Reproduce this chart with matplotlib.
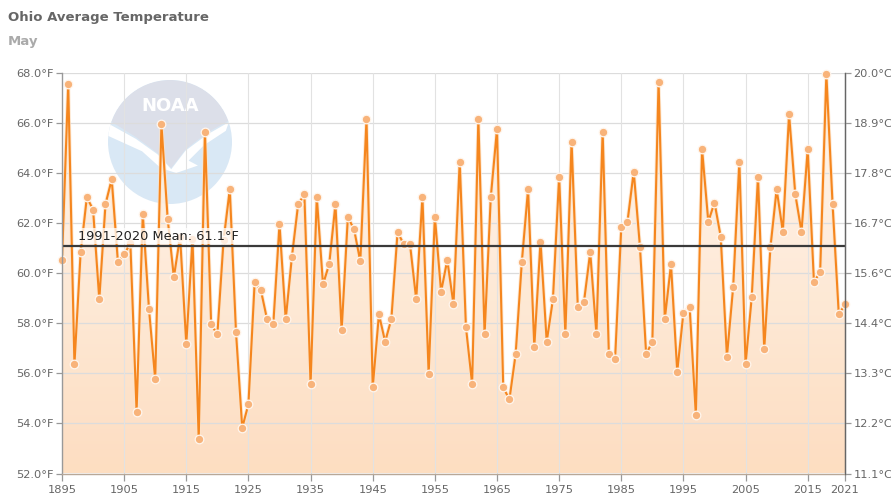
import numpy as np
import matplotlib
matplotlib.use("Agg")
import matplotlib.pyplot as plt
from matplotlib.patches import Polygon, Circle

# ---------------- data ----------------
years = list(range(1895, 2022))
temps_f = [
    60.53, 67.56, 56.36, 60.84, 63.04, 62.55, 58.96, 62.77, 63.76, 60.45,  # 1895-1904
    60.76, 61.20, 54.47, 62.36, 58.56, 55.76, 65.96, 62.19, 59.85, 61.47,  # 1905-1914
    57.17, 61.37, 53.37, 65.67, 57.96, 57.56, 61.33, 63.36, 57.64, 53.83,  # 1915-1924
    54.77, 59.64, 59.33, 58.16, 57.96, 61.96, 58.16, 60.67, 62.76, 63.16,  # 1925-1934
    55.57, 63.05, 59.56, 60.37, 62.76, 57.73, 62.25, 61.76, 60.48, 66.16,  # 1935-1944
    55.44, 58.36, 57.27, 58.17, 61.65, 61.16, 61.16, 58.96, 63.05, 55.97,  # 1945-1954
    62.27, 59.27, 60.53, 58.76, 64.47, 57.85, 55.57, 66.16, 57.56, 63.05,  # 1955-1964
    65.77, 55.44, 54.96, 56.77, 60.47, 63.36, 57.07, 61.27, 57.27, 58.96,  # 1965-1974
    63.87, 57.56, 65.27, 58.67, 58.87, 60.84, 57.57, 65.67, 56.77, 56.56,  # 1975-1984
    61.84, 62.07, 64.07, 61.07, 56.77, 57.27, 67.67, 58.17, 60.36, 56.07,  # 1985-1994
    58.43, 58.64, 54.33, 64.96, 62.07, 62.83, 61.47, 56.67, 59.44, 64.47,  # 1995-2004
    56.37, 59.07, 63.87, 56.96, 61.04, 63.36, 61.67, 66.36, 63.16, 61.67,  # 2005-2014
    64.96, 59.67, 60.04, 67.96, 62.76, 58.36, 58.76,                        # 2015-2021
]
mean_value = 61.1
mean_label = "1991-2020 Mean: 61.1°F"
x_ticks = [1895, 1905, 1915, 1925, 1935, 1945, 1955, 1965, 1975, 1985, 1995, 2005, 2015, 2021]
y_ticks_f = [52, 54, 56, 58, 60, 62, 64, 66, 68]
y_labels_f = ["52.0°F", "54.0°F", "56.0°F", "58.0°F", "60.0°F", "62.0°F", "64.0°F", "66.0°F", "68.0°F"]
y_labels_c = ["11.1°C", "12.2°C", "13.3°C", "14.4°C", "15.6°C", "16.7°C", "17.8°C", "18.9°C", "20.0°C"]
title = "Ohio Average Temperature"
subtitle = "May"

# ---------------- figure ----------------
W, H = 891, 497
fig = plt.figure(figsize=(W / 100, H / 100), dpi=100)
fig.patch.set_facecolor("white")

L, R, T, B = 62, 845, 73.3, 473.5
ax = fig.add_axes([L / W, 1 - B / H, (R - L) / W, (B - T) / H])
ax.set_facecolor("none")
ax.set_zorder(2)

# NOAA watermark logo (behind plot)
cx, cy, rr = 170, 142, 62
lax = fig.add_axes([(cx - rr) / W, 1 - (cy + rr) / H, 2 * rr / W, 2 * rr / H])
lax.set_zorder(1)
lax.set_xlim(-1, 1)
lax.set_ylim(-1, 1)
lax.axis("off")
circ = Circle((0, 0), 1, facecolor="#d9e8f5", edgecolor="none")
lax.add_patch(circ)
th = np.linspace(np.radians(20), np.radians(160), 60)
arc = list(zip(np.cos(th), np.sin(th)))
lower_edge = [(-0.95, 0.33), (-0.55, 0.08), (-0.2, -0.18), (0.02, -0.42),
              (0.25, -0.12), (0.6, 0.15), (0.94, 0.34)]
tp = Polygon(arc + lower_edge, closed=True, facecolor="#dcdfe9", edgecolor="none")
tp.set_clip_path(circ)
lax.add_patch(tp)
gull = Polygon([(-1.0, 0.3), (-0.55, 0.05), (-0.2, -0.2), (0.02, -0.44), (0.25, -0.14), (0.6, 0.12),
                (0.95, 0.32), (0.9, 0.18), (0.55, -0.05), (0.3, -0.3), (0.45, -0.38), (0.1, -0.5),
                (-0.15, -0.42), (-0.45, -0.15), (-1.0, 0.1)],
               closed=True, facecolor="white", edgecolor="none")
gull.set_clip_path(circ)
lax.add_patch(gull)
lax.text(0.0, 0.58, "NOAA", ha="center", va="center", color="white", fontsize=13,
         fontweight="bold", family="DejaVu Sans")

# ---------------- main plot ----------------
x = np.array(years, dtype=float)
y = np.array(temps_f, dtype=float)
ax.set_xlim(1895, 2021)
ax.set_ylim(52, 68)

# gradient fill under the line (lighter at top, deeper at bottom)
grad = np.linspace(0, 1, 256).reshape(-1, 1)
top_c = np.array([255, 247, 239]) / 255
bot_c = np.array([253, 219, 188]) / 255
img = top_c[None, None, :] * (1 - grad[:, :, None]) + bot_c[None, None, :] * grad[:, :, None]
im = ax.imshow(img, extent=[1895, 2021, 52, 68], aspect="auto", zorder=1, origin="upper", alpha=0.92)
poly = Polygon(np.vstack([np.column_stack([x, y]), [[2021, 52], [1895, 52]]]), closed=True,
               facecolor="none", edgecolor="none", transform=ax.transData)
ax.add_patch(poly)
im.set_clip_path(poly)

# grid
for yt in y_ticks_f:
    ax.axhline(yt, color="#dcdcdc", lw=0.9, zorder=1.5)
for xt in x_ticks[1:-1]:
    ax.axvline(xt, color="#e2e2e2", lw=0.8, zorder=1.5)

# series
ax.plot(x, y, color="#fde3c8", lw=2.8, zorder=2.8, solid_joinstyle="round", alpha=0.8)
ax.plot(x, y, color="#F5861E", lw=1.5, zorder=3, solid_joinstyle="round")
ax.plot(x, y, ls="none", marker="o", ms=6.2, mfc="#F8B37A", mec="#fff6ee", mew=0.9, zorder=4, clip_on=False)

# mean line
ax.axhline(mean_value, color="#3a3a3a", lw=1.6, zorder=5)
ax.text(1897.5, mean_value + 0.13, mean_label, fontsize=9.3, color="#222222", zorder=6,
        ha="left", va="bottom",
        bbox=dict(boxstyle="square,pad=0.12", facecolor="white", edgecolor="none", alpha=0.75))

# axes styling
ax.spines["top"].set_visible(False)
ax.spines["left"].set_color("#999999")
ax.spines["right"].set_color("#666666")
ax.spines["bottom"].set_color("#b8a898")
for s in ["left", "right", "bottom"]:
    ax.spines[s].set_linewidth(1.0)
    ax.spines[s].set_zorder(6)

ax.set_xticks(x_ticks)
ax.set_xticklabels([str(t) for t in x_ticks])
ax.set_yticks(y_ticks_f)
ax.set_yticklabels(y_labels_f)
ax.tick_params(axis="x", length=5, width=0.9, color="#999999", labelsize=8.2, labelcolor="#666666", pad=3)
ax.tick_params(axis="y", length=4, width=0.9, color="#999999", labelsize=8.2, labelcolor="#666666", pad=2)

ax2 = ax.twinx()
ax2.set_ylim(52, 68)
ax2.set_yticks(y_ticks_f)
ax2.set_yticklabels(y_labels_c)
ax2.tick_params(axis="y", length=4, width=0.9, color="#999999", labelsize=8.2, labelcolor="#666666", pad=2)
for s in ["top", "left", "bottom"]:
    ax2.spines[s].set_visible(False)
ax2.spines["right"].set_color("#666666")

# titles
fig.text(8 / W, 1 - 17 / H, title, fontsize=9.5, fontweight="bold", color="#666666", va="center", ha="left")
fig.text(8 / W, 1 - 42 / H, subtitle, fontsize=9.5, fontweight="bold", color="#aaaaaa", va="center", ha="left")

fig.savefig("out.png", dpi=100)
